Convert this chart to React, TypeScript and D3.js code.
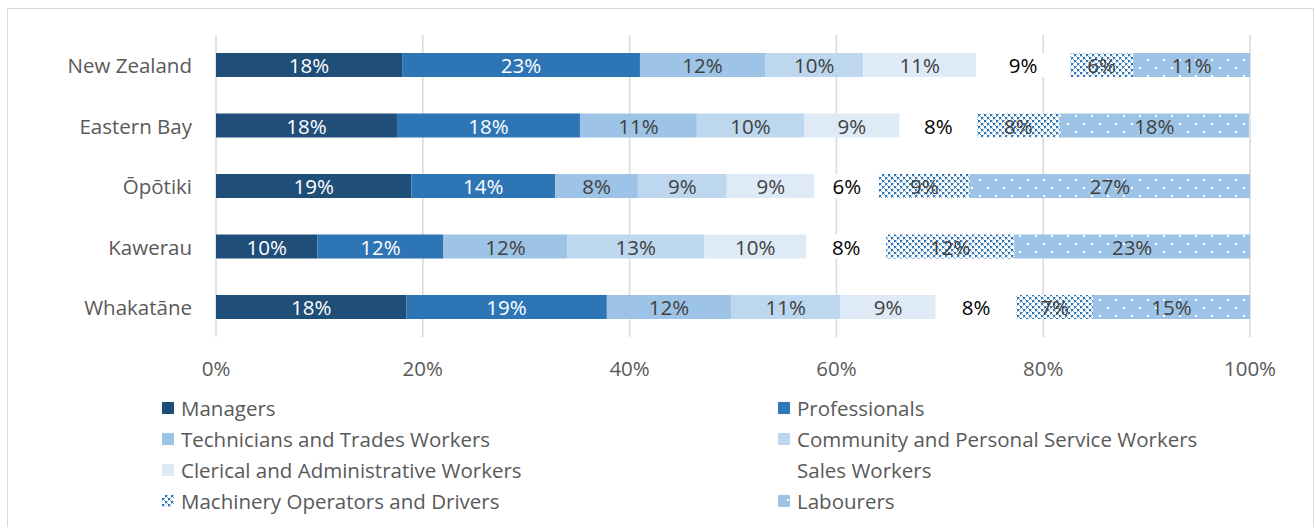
import React from 'react';
import { scaleLinear, scalePoint, stack } from 'd3';

const REGIONS = ['New Zealand', 'Eastern Bay', 'Ōpōtiki', 'Kawerau', 'Whakatāne'];

const OCCUPATIONS = [
  'Managers',
  'Professionals',
  'Technicians and Trades Workers',
  'Community and Personal Service Workers',
  'Clerical and Administrative Workers',
  'Sales Workers',
  'Machinery Operators and Drivers',
  'Labourers',
];

// share of workers, % (one array per occupation, in REGIONS order)
const MANAGERS = [18.0, 17.5, 18.9, 9.8, 18.4];
const PROFESSIONALS = [23.0, 17.7, 13.9, 12.2, 19.4];
const TECHNICIANS = [12.1, 11.3, 8.0, 12.0, 12.0];
const COMMUNITY = [9.5, 10.4, 8.6, 13.2, 10.6];
const CLERICAL = [10.9, 9.2, 8.5, 9.9, 9.2];
const SALES = [9.1, 7.5, 6.2, 7.7, 7.8];
const MACHINERY = [6.1, 8.0, 8.8, 12.4, 7.4];
const LABOURERS = [11.3, 18.3, 27.1, 22.8, 15.2];

const SERIES = [MANAGERS, PROFESSIONALS, TECHNICIANS, COMMUNITY, CLERICAL, SALES, MACHINERY, LABOURERS];

const X_TICKS = [0, 20, 40, 60, 80, 100];

const FILLS = ['#1f4e79', '#2e75b6', '#9dc3e6', '#bdd7ee', '#deebf7', '#ffffff', 'url(#pat-machinery)', 'url(#pat-labourers)'];
const TEXT_COLORS = ['#ffffff', '#ffffff', '#404040', '#404040', '#404040', '#000000', '#404040', '#404040'];

const FONT = '"Open Sans", sans-serif';
const FS = 20.5;

export default function App() {
  const width = 1315;
  const height = 527;

  const x = scaleLinear().domain([0, 100]).range([216, 1250]);
  const y = scalePoint<string>().domain(REGIONS).range([65, 307]);
  const barH = 24;

  const rows = REGIONS.map((r, i) => {
    const row: Record<string, number | string> = { region: r };
    OCCUPATIONS.forEach((o, j) => { row[o] = SERIES[j][i]; });
    return row;
  });
  const stacked = stack<any>().keys(OCCUPATIONS)(rows);

  const legendCols = [162, 778];
  const legendRows = [408, 439, 470, 501];

  return (
    <svg width={width} height={height} style={{ position: 'absolute', left: 0, top: 0 }} fontFamily={FONT}>
      <defs>
        <pattern id="pat-machinery" width="6" height="6" patternUnits="userSpaceOnUse">
          <rect width="6" height="6" fill="#ffffff" />
          <rect x="0" y="0" width="2" height="2" fill="#2e75b6" />
          <rect x="3" y="3" width="2" height="2" fill="#2e75b6" />
          <rect x="2" y="2" width="1" height="1" fill="#7aa9d6" />
          <rect x="5" y="5" width="1" height="1" fill="#7aa9d6" />
          <rect x="2" y="0" width="1" height="1" fill="#9dc3e6" />
          <rect x="0" y="2" width="1" height="1" fill="#9dc3e6" />
          <rect x="5" y="3" width="1" height="1" fill="#9dc3e6" />
          <rect x="3" y="5" width="1" height="1" fill="#9dc3e6" />
        </pattern>
        <pattern id="pat-labourers" width="16" height="16" patternUnits="userSpaceOnUse">
          <rect width="16" height="16" fill="#9dc3e6" />
          <rect x="3" y="3" width="2" height="2" fill="#ffffff" />
          <rect x="11" y="11" width="2" height="2" fill="#ffffff" />
        </pattern>
      </defs>
      <rect x={7.5} y={8.5} width={1306} height={530} fill="#ffffff" stroke="#d9d9d9" />

      {X_TICKS.map(t => (
        <g key={t}>
          <line x1={x(t)} x2={x(t)} y1={35} y2={337} stroke="#d9d9d9" strokeWidth={1.5} />
          <text x={x(t)} y={368} textAnchor="middle" dominantBaseline="central" fontSize={FS} fill="#595959">{t}%</text>
        </g>
      ))}

      {REGIONS.map(r => (
        <text key={r} x={192} y={y(r)} textAnchor="end" dominantBaseline="central" fontSize={FS} fill="#595959">{r}</text>
      ))}

      {stacked.map((s, j) => (
        <g key={OCCUPATIONS[j]}>
          {s.map((d, i) => {
            const x0 = x(d[0]);
            const x1 = x(d[1]);
            const cy = y(REGIONS[i]) as number;
            return (
              <g key={i}>
                <rect x={x0} y={cy - barH / 2} width={x1 - x0} height={barH} fill={FILLS[j]} />
                <text x={(x0 + x1) / 2} y={cy} textAnchor="middle" dominantBaseline="central" fontSize={FS} fill={TEXT_COLORS[j]}>
                  {Math.round(SERIES[j][i])}%
                </text>
              </g>
            );
          })}
        </g>
      ))}

      {OCCUPATIONS.map((o, j) => {
        const lx = legendCols[j % 2];
        const ly = legendRows[Math.floor(j / 2)];
        return (
          <g key={o}>
            <rect x={lx} y={ly - 6} width={12} height={12} fill={FILLS[j]} />
            <text x={lx + 19} y={ly} dominantBaseline="central" fontSize={FS} fill="#595959">{o}</text>
          </g>
        );
      })}
    </svg>
  );
}
